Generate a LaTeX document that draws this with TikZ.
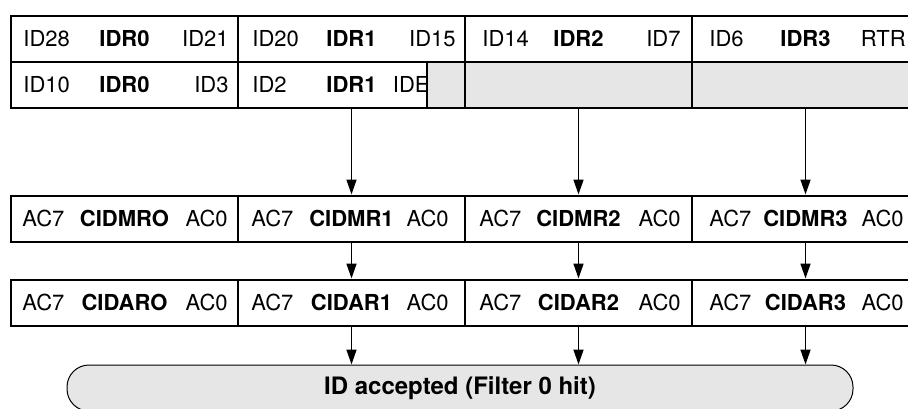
\documentclass[tikz,border=0pt]{standalone}
\usepackage{fontspec}
\setmainfont{TeX Gyre Heros}
\usetikzlibrary{arrows.meta, positioning}
\definecolor{fillGray}{HTML}{E6E6E6}

\begin{document}
\begin{tikzpicture}[x=0.5pt, y=-0.5pt,
    every node/.style={font=\fontsize{11}{13}\selectfont, inner sep=0pt},
    cell/.style={draw, line width=1pt, minimum width=113.5pt, minimum height=23pt},
    flow/.style={line width=0.8pt, -{Triangle[length=7.5pt, width=5pt]}}]
  \useasboundingbox (0,0) rectangle (908,408);
  \clip (0,0) rectangle (908,408);
  % identifier registers, first byte row
  \foreach \i/\hi/\lo/\dl/\dr in {0/ID28/ID21/6.5/5, 1/ID20/ID15/7.5/5, 2/ID14/ID7/9/6, 3/ID6/RTR/9/7}{
    \node[cell] (top\i) at (124.5+227*\i, 38.5) {\textbf{IDR\i}};
    \node[anchor=west] at ([xshift=\dl pt]top\i.west) {\hi};
    \node[anchor=east] at ([xshift=-\dr pt]top\i.east) {\lo};
  }
  % second row, only two registers used
  \node[cell] (low0) at (124.5, 84.5) {\textbf{IDR0}};
  \node[cell] (low1) at (351.5, 84.5) {\textbf{IDR1}};
  \node[cell, fill=fillGray] (low2) at (578.5, 84.5) {};
  \node[cell, fill=fillGray] (low3) at (805.5, 84.5) {};
  \node[anchor=west] at ([xshift=6.5pt]low0.west) {ID10};
  \node[anchor=east] at ([xshift=-5pt]low0.east) {ID3};
  \node[anchor=west] at ([xshift=7.5pt]low1.west) {ID2};
  \node[anchor=east] at ([xshift=-18pt]low1.east) {IDE};
  \node[cell, fill=fillGray, minimum width=19pt, anchor=east] (pad) at (low1.east) {};
  % mask and acceptance registers
  \foreach \i/\mk/\ac/\dl/\dr in {0/CIDMRO/CIDARO/6/5.5, 1/CIDMR1/CIDAR1/7/8.5, 2/CIDMR2/CIDAR2/7.5/6, 3/CIDMR3/CIDAR3/9/8}{
    \node[cell] (msk\i) at (124.5+227*\i, 218.5) {\textbf{\mk}};
    \node[anchor=west] at ([xshift=\dl pt]msk\i.west) {AC7};
    \node[anchor=east] at ([xshift=-\dr pt]msk\i.east) {AC0};
    \node[cell] (acc\i) at (124.5+227*\i, 302.5) {\textbf{\ac}};
    \node[anchor=west] at ([xshift=\dl pt]acc\i.west) {AC7};
    \node[anchor=east] at ([xshift=-\dr pt]acc\i.east) {AC0};
  }
  \node[draw, line width=0.5pt, fill=fillGray, rounded corners=11pt,
    minimum width=393pt, minimum height=23pt,
    font=\fontsize{12}{14}\selectfont\bfseries] (hit) at (460, 388) {ID accepted (Filter 0 hit)};
  \foreach \i in {1,2,3}{
    \draw[flow] (low\i.south) -- (msk\i.north);
    \draw[flow] (msk\i.south) -- (acc\i.north);
    \draw[flow] (acc\i.south) -- (acc\i.south |- hit.north);
  }
\end{tikzpicture}
\end{document}
